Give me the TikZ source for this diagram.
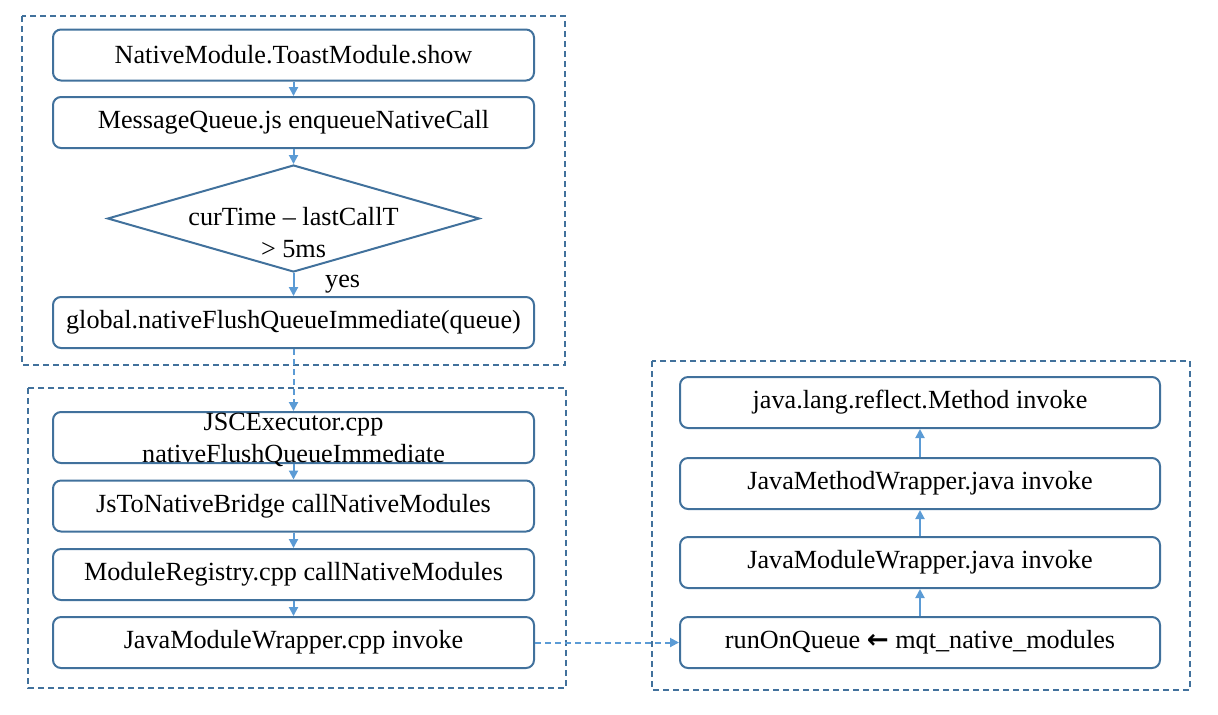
\documentclass[tikz,border=0pt]{standalone}
\usepackage{fontspec}
\setmainfont{Liberation Serif}
\newfontfamily\arrowfont{DejaVu Sans}
\usetikzlibrary{shapes.geometric,arrows.meta}
\definecolor{frameBlue}{HTML}{41719C}
\definecolor{arrowBlue}{HTML}{5B9BD5}
\begin{document}
\begin{tikzpicture}[x=0.5pt,y=-0.5pt,
      boxFont/.style={font=\fontsize{13.1}{16}\selectfont},
      callNode/.style={draw=frameBlue,line width=1pt,rounded corners=4pt,minimum width=240.5pt,minimum height=25.5pt,inner sep=0pt,boxFont},
      checkNode/.style={diamond,draw=frameBlue,line width=1pt,minimum width=186pt,minimum height=53.5pt,inner sep=0pt},
      groupFrame/.style={draw=frameBlue,line width=1pt,dash pattern=on 3pt off 2pt},
      flowArrow/.style={draw=arrowBlue,line width=1pt,-{Triangle[length=4.5pt,width=4.5pt]}},
      jumpArrow/.style={flowArrow,dash pattern=on 3pt off 2pt},
    ]
    \useasboundingbox (0,0) rectangle (1218,714);

    % groups
    \draw[groupFrame] (22,16) rectangle (565,365);
    \draw[groupFrame] (28,388) rectangle (566,688);
    \draw[groupFrame] (652,361) rectangle (1190,690);

    % js side
    \node[callNode] (show) at (293.5,55) {NativeModule.ToastModule.show};
    \node[callNode] (enqueue) at (293.5,122.5) {MessageQueue.js enqueueNativeCall};
    \node[checkNode,label={[boxFont,align=center,yshift=-7pt]center:{curTime -- lastCallT\\> 5ms}}] (check) at (293.5,218.5) {};
    \node[callNode] (flush) at (293.5,322.5) {global.nativeFlushQueueImmediate(queue)};

    \draw[flowArrow] (show) -- (enqueue);
    \draw[flowArrow] (enqueue) -- (check);
    \draw[flowArrow] (check) -- node[boxFont,right,pos=0.5,xshift=12pt] (yes) {yes} (flush);

    % c++ side
    \node[callNode,label={[boxFont,align=center,yshift=-1pt]center:{JSCExecutor.cpp\\nativeFlushQueueImmediate}}] (jsc) at (293.5,437.5) {};
    \node[callNode] (bridge) at (293.5,506) {JsToNativeBridge callNativeModules};
    \node[callNode] (registry) at (293.5,574.5) {ModuleRegistry.cpp callNativeModules};
    \node[callNode] (cppInvoke) at (293.5,642.5) {JavaModuleWrapper.cpp invoke};

    \draw[jumpArrow] (flush) -- (jsc);
    \draw[flowArrow] (jsc) -- (bridge);
    \draw[flowArrow] (bridge) -- (registry);
    \draw[flowArrow] (registry) -- (cppInvoke);

    % java side
    \node[callNode,minimum width=240pt] (reflect) at (920,402.5) {java.lang.reflect.Method invoke};
    \node[callNode,minimum width=240pt] (methodWrap) at (920,483.5) {JavaMethodWrapper.java invoke};
    \node[callNode,minimum width=240pt] (moduleWrap) at (920,562.5) {JavaModuleWrapper.java invoke};
    \node[callNode,minimum width=240pt] (runQueue) at (920,642.5) {runOnQueue {\arrowfont\bfseries ←} mqt\_native\_modules};

    \draw[flowArrow] (runQueue) -- (moduleWrap);
    \draw[flowArrow] (moduleWrap) -- (methodWrap);
    \draw[flowArrow] (methodWrap) -- (reflect);

    \draw[jumpArrow] (cppInvoke) -- (runQueue);

\end{tikzpicture}
\end{document}
